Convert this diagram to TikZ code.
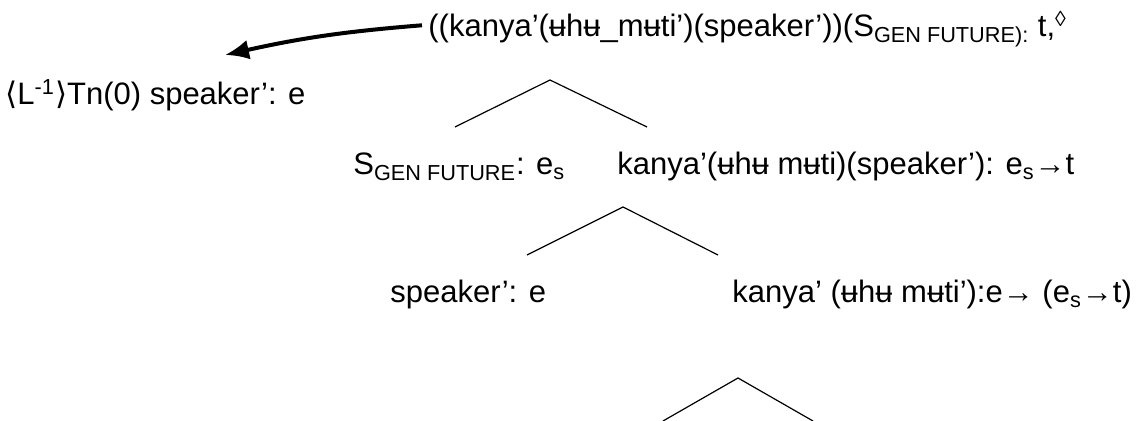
\documentclass[tikz,border=0pt]{standalone}
\usepackage{fontspec}
\setmainfont{Liberation Sans}
\newfontfamily\symbfont{DejaVu Sans}
\usetikzlibrary{arrows.meta,positioning}

\begin{document}
\begin{tikzpicture}[x=0.5pt,y=-0.5pt,
  lbl/.style={anchor=base west,inner sep=0pt,font=\fontsize{15.5}{18}\selectfont},
  branch/.style={line width=0.6pt}]
\useasboundingbox (0,0) rectangle (1137,421);

% root and the linked node
\node[lbl] (root) at (428,37) {((kanya’(ʉhʉ\_mʉti’)(speaker’))(S\textsubscript{GEN FUTURE):} t,\textsuperscript{◊}};
\node[lbl] (link) at (5,105) {{\symbfont⟨}L\textsuperscript{-1}{\symbfont⟩}Tn(0) speaker’: e};
\coordinate (tip) at (225,55);
\draw[line width=2pt,-{Latex[length=12pt,width=10pt]}] ([xshift=-3pt,yshift=2pt]root.west) to[bend right=4] (tip);

% first split
\coordinate (a1) at (550,80);
\coordinate (l1) at (455,127);
\coordinate (r1) at (647,127);
\draw[branch] (l1) -- (a1) -- (r1);

\node[lbl] (sgen) at (353,175) {S\textsubscript{GEN FUTURE}: e\textsubscript{s}};
\node[lbl] (pred) at (617,175) {kanya’(ʉhʉ mʉti)(speaker’): e\textsubscript{s}→t};

% second split
\coordinate (a2) at (623,207);
\coordinate (l2) at (527,255);
\coordinate (r2) at (718,255);
\draw[branch] (l2) -- (a2) -- (r2);

\node[lbl] (spk) at (390,303) {speaker’: e};
\node[lbl] (fun) at (732,303) {kanya’ (ʉhʉ mʉti’):e→ (e\textsubscript{s}→t)};

% third split
\coordinate (a3) at (738,378);
\coordinate (l3) at (663,421);
\coordinate (r3) at (813,421);
\draw[branch] (l3) -- (a3) -- (r3);
\end{tikzpicture}
\end{document}
